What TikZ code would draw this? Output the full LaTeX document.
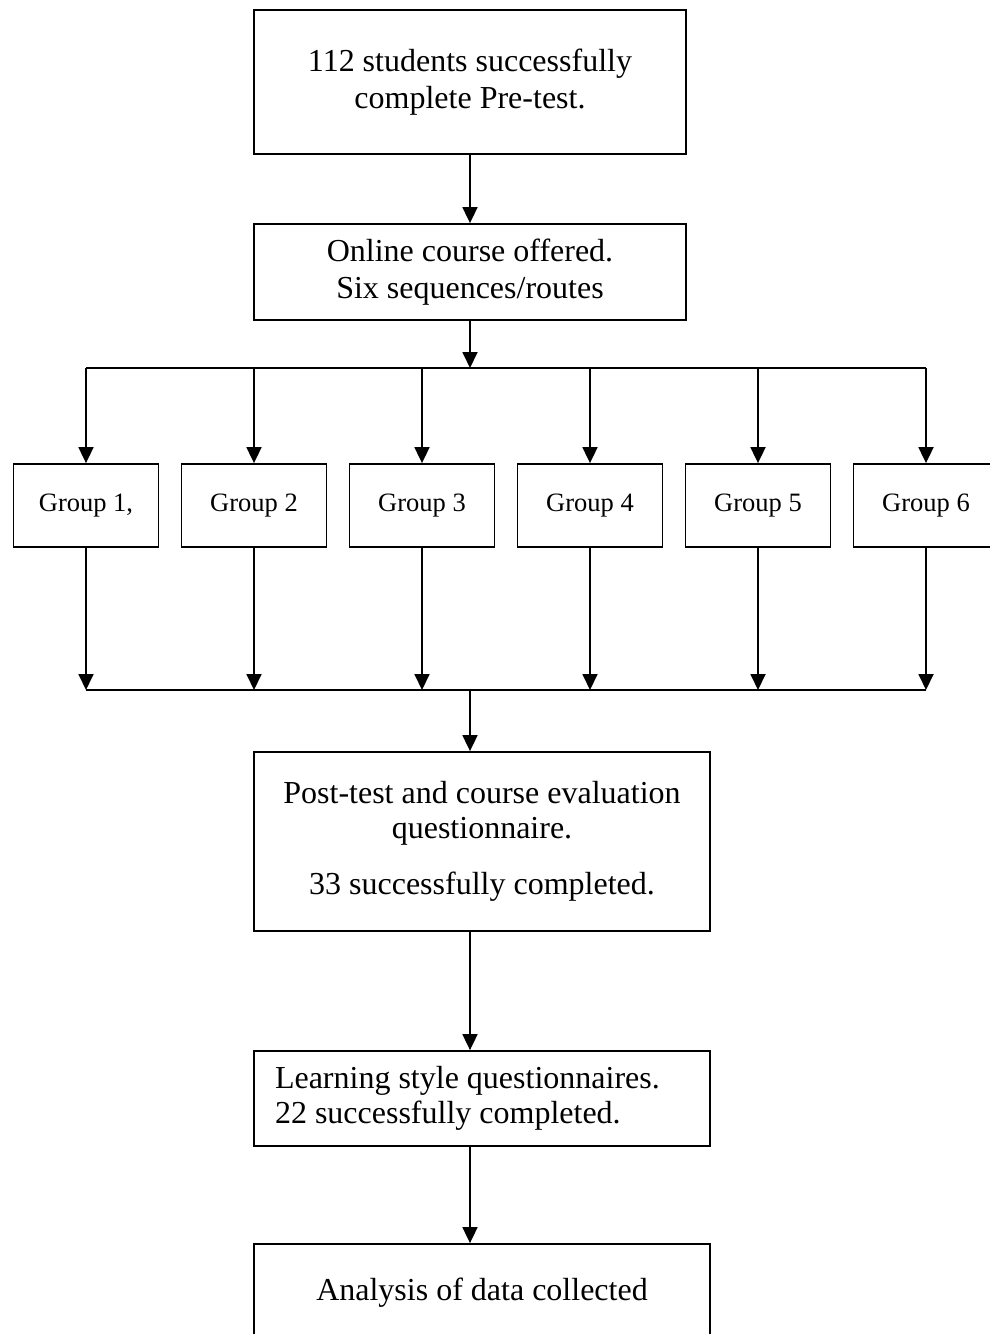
\documentclass[tikz,border=0pt]{standalone}
\usepackage{fontspec}
\setmainfont{Liberation Serif}
\usetikzlibrary{arrows.meta}
\begin{document}
\begin{tikzpicture}[x=1pt,y=-1pt,
  box/.style={draw,line width=1.8pt,rectangle,inner sep=0pt,align=center,font=\fontsize{32}{37}\selectfont},
  grp/.style={draw,line width=1.8pt,rectangle,inner sep=0pt,minimum width=145pt,minimum height=83pt,font=\fontsize{26.5}{30}\selectfont},
  arr/.style={line width=1.8pt,-{Triangle[width=15pt,length=16pt]}},
  ln/.style={line width=1.8pt}]
\useasboundingbox (0,0) rectangle (990,1334);
\clip (0,0) rectangle (990,1334);
\node[box,minimum width=432pt,minimum height=144pt] (pre) at (470,82) {112 students successfully\\complete Pre-test.};
\node[box,minimum width=432pt,minimum height=96pt] (course) at (470,272) {Online course offered.\\Six sequences/routes};
\coordinate (tm) at (470,368);
\coordinate (cm) at (470,690);
\foreach \i/\lab in {1/{Group 1,},2/{Group 2},3/{Group 3},4/{Group 4},5/{Group 5},6/{Group 6}}{
  \pgfmathsetmacro{\xx}{86+168*(\i-1)}
  \coordinate (t\i) at (\xx,368);
  \coordinate (c\i) at (\xx,690);
  \node[grp] (g\i) at (\xx,505.5) {\lab};
}
\node[box,minimum width=456pt,minimum height=179pt,font=\fontsize{32}{35}\selectfont] (post) at (482,841.5) {Post-test and course evaluation\\questionnaire.\\[21pt]33 successfully completed.};
\node[box,minimum width=456pt,minimum height=95pt,text width=414pt,inner xsep=21pt,align=flush left,font=\fontsize{32}{35}\selectfont] (learn) at (482,1098.5) {Learning style questionnaires.\\22 successfully completed.};
\node[box,minimum width=456pt,minimum height=97pt] (ana) at (482,1292.5) {Analysis of data collected};
\draw[arr] (pre) -- (course);
\draw[arr] (course) -- (tm);
\draw[ln] (t1) -- (t6);
\draw[ln] (c1) -- (c6);
\foreach \i in {1,...,6}{
  \draw[arr] (t\i) -- (g\i);
  \draw[arr] (g\i) -- (c\i);
}
\draw[arr] (cm) -- (cm |- post.north);
\draw[arr] (post.south -| cm) -- (cm |- learn.north);
\draw[arr] (learn.south -| cm) -- (cm |- ana.north);
\end{tikzpicture}
\end{document}
